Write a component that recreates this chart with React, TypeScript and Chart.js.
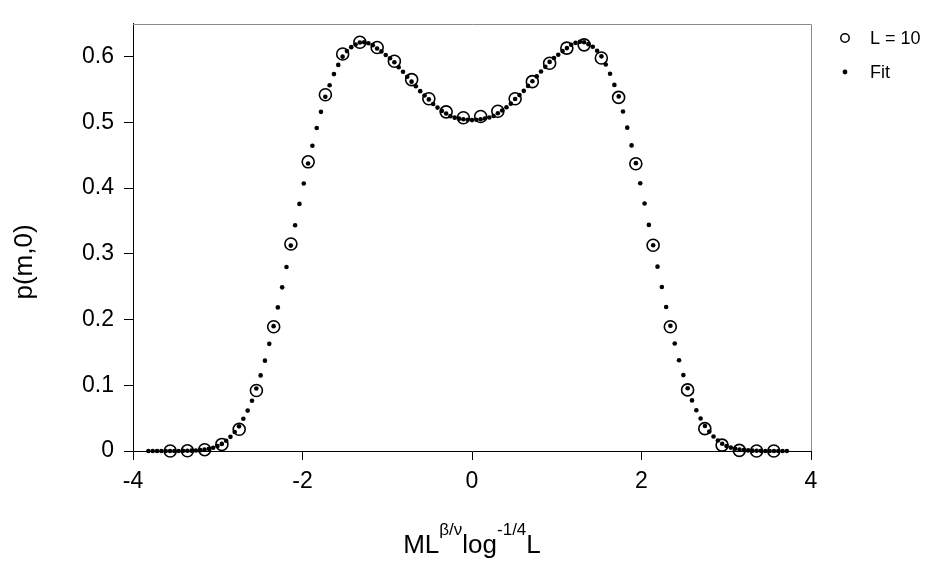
import React, { useEffect, useRef } from "react";
import { Chart, registerables } from "chart.js";

Chart.register(...registerables);

const FONT = 'Arial, "Liberation Sans", Helvetica, sans-serif';

// Simulation data, L = 10 (open circles)
const lMag = [
  -3.561, -3.358, -3.154, -2.951, -2.747, -2.544, -2.34, -2.137, -1.933, -1.73, -1.526, -1.323,
  -1.119, -0.916, -0.712, -0.509, -0.305, -0.102, 0.102, 0.305, 0.509, 0.712, 0.916, 1.119,
  1.323, 1.526, 1.73, 1.933, 2.137, 2.34, 2.544, 2.747, 2.951, 3.154, 3.358, 3.561,
];
const lProb = [
  0, 0.0003, 0.002, 0.01, 0.033, 0.092, 0.189, 0.315, 0.44, 0.542, 0.604, 0.622,
  0.614, 0.593, 0.565, 0.536, 0.516, 0.507, 0.509, 0.517, 0.536, 0.562, 0.59, 0.613,
  0.618, 0.598, 0.538, 0.437, 0.313, 0.189, 0.093, 0.034, 0.009, 0.001, 0, 0,
];

// Fit (small filled dots)
const fitMag = [
  -3.818, -3.767, -3.716, -3.665, -3.614, -3.563, -3.512, -3.461, -3.41, -3.359,
  -3.309, -3.258, -3.207, -3.156, -3.105, -3.054, -3.003, -2.952, -2.901, -2.85,
  -2.8, -2.749, -2.698, -2.647, -2.596, -2.545, -2.494, -2.443, -2.392, -2.341,
  -2.291, -2.24, -2.189, -2.138, -2.087, -2.036, -1.985, -1.934, -1.883, -1.832,
  -1.782, -1.731, -1.68, -1.629, -1.578, -1.527, -1.476, -1.425, -1.374, -1.323,
  -1.273, -1.222, -1.171, -1.12, -1.069, -1.018, -0.967, -0.916, -0.865, -0.814,
  -0.764, -0.713, -0.662, -0.611, -0.56, -0.509, -0.458, -0.407, -0.356, -0.305,
  -0.255, -0.204, -0.153, -0.102, -0.051,
  0,
  0.051, 0.102, 0.153, 0.204, 0.255,
  0.305, 0.356, 0.407, 0.458, 0.509, 0.56, 0.611, 0.662, 0.713, 0.764,
  0.814, 0.865, 0.916, 0.967, 1.018, 1.069, 1.12, 1.171, 1.222, 1.273,
  1.323, 1.374, 1.425, 1.476, 1.527, 1.578, 1.629, 1.68, 1.731, 1.782,
  1.832, 1.883, 1.934, 1.985, 2.036, 2.087, 2.138, 2.189, 2.24, 2.291,
  2.341, 2.392, 2.443, 2.494, 2.545, 2.596, 2.647, 2.698, 2.749, 2.8,
  2.85, 2.901, 2.952, 3.003, 3.054, 3.105, 3.156, 3.207, 3.258, 3.309,
  3.359, 3.41, 3.461, 3.512, 3.563, 3.614, 3.665, 3.716,
];
const fitProb = [
  0, 0, 0, 0, 0, 0, 0.0001, 0.0001, 0.0002, 0.0003,
  0.0005, 0.0008, 0.0013, 0.0021, 0.0033, 0.005, 0.0075, 0.0108, 0.0157, 0.0215,
  0.029, 0.0375, 0.049, 0.0615, 0.0765, 0.095, 0.115, 0.1375, 0.163, 0.19,
  0.2185, 0.249, 0.28, 0.3125, 0.3435, 0.376, 0.407, 0.4375, 0.4645, 0.4915,
  0.516, 0.539, 0.5565, 0.5735, 0.5875, 0.6, 0.6085, 0.6145, 0.6185, 0.6215,
  0.622, 0.6205, 0.6175, 0.6125, 0.608, 0.6025, 0.5975, 0.5915, 0.584, 0.577,
  0.5695, 0.562, 0.555, 0.5475, 0.541, 0.535, 0.528, 0.5225, 0.5175, 0.5135,
  0.5095, 0.5072, 0.5057, 0.5047, 0.504,
  0.5035,
  0.504, 0.5048, 0.5058, 0.5075, 0.5098,
  0.5138, 0.518, 0.523, 0.5285, 0.5355, 0.5415, 0.548, 0.5555, 0.5625, 0.57,
  0.5775, 0.5845, 0.592, 0.598, 0.603, 0.6085, 0.613, 0.618, 0.621, 0.6225,
  0.622, 0.619, 0.615, 0.609, 0.6005, 0.588, 0.574, 0.557, 0.5395, 0.5165,
  0.492, 0.465, 0.438, 0.4075, 0.3765, 0.344, 0.313, 0.2805, 0.2495, 0.219,
  0.1905, 0.1635, 0.138, 0.1155, 0.0955, 0.077, 0.062, 0.0495, 0.038, 0.0295,
  0.022, 0.016, 0.011, 0.0077, 0.0052, 0.0034, 0.0022, 0.0014, 0.0009, 0.0005,
  0.0003, 0.0002, 0.0001, 0.0001, 0, 0, 0, 0,
];

const xTicks = [-4, -2, 0, 2, 4];
const yTicks = [0, 0.1, 0.2, 0.3, 0.4, 0.5, 0.6];
const seriesNames = ["L = 10", "Fit"];
const yTitle = "p(m,0)";
const xTitleParts: { t: string; sup: boolean }[] = [
  { t: "ML", sup: false },
  { t: "\u03B2/\u03BD", sup: true },
  { t: "log", sup: false },
  { t: "-1/4", sup: true },
  { t: "L", sup: false },
];

const decorPlugin = {
  id: "decor",
  afterDraw(chart: any) {
    const { ctx, chartArea: a } = chart;
    ctx.save();
    // top and right frame
    ctx.strokeStyle = "#8c8c8c";
    ctx.lineWidth = 1;
    ctx.beginPath();
    ctx.moveTo(a.left, Math.round(a.top) + 0.5);
    ctx.lineTo(Math.round(a.right) + 0.5, Math.round(a.top) + 0.5);
    ctx.lineTo(Math.round(a.right) + 0.5, a.bottom);
    ctx.stroke();

    ctx.fillStyle = "#000";
    // x title with superscripts
    const mainF = `26px ${FONT}`;
    const supF = `17px ${FONT}`;
    let total = 0;
    const widths = xTitleParts.map((p) => {
      ctx.font = p.sup ? supF : mainF;
      const w = ctx.measureText(p.t).width;
      total += w;
      return w;
    });
    let x = (a.left + a.right) / 2 - total / 2;
    ctx.textAlign = "left";
    ctx.textBaseline = "alphabetic";
    xTitleParts.forEach((p, i) => {
      ctx.font = p.sup ? supF : mainF;
      ctx.fillText(p.t, x, p.sup ? 535 : 553);
      x += widths[i];
    });

    // y title
    ctx.save();
    ctx.translate(25, 262);
    ctx.rotate(-Math.PI / 2);
    ctx.font = `26px ${FONT}`;
    ctx.textAlign = "center";
    ctx.textBaseline = "middle";
    ctx.fillText(yTitle, 0, 0);
    ctx.restore();

    // legend
    ctx.lineWidth = 1.5;
    ctx.strokeStyle = "#000";
    ctx.beginPath();
    ctx.arc(845, 38, 4.2, 0, Math.PI * 2);
    ctx.stroke();
    ctx.beginPath();
    ctx.arc(845, 72, 2.4, 0, Math.PI * 2);
    ctx.fill();
    ctx.font = `18px ${FONT}`;
    ctx.textAlign = "left";
    ctx.textBaseline = "middle";
    ctx.fillText(seriesNames[0], 870, 39);
    ctx.fillText(seriesNames[1], 870, 73);
    ctx.restore();
  },
};

export default function App() {
  const ref = useRef<HTMLCanvasElement>(null);
  useEffect(() => {
    if (!ref.current) return;
    const chart = new Chart(ref.current, {
      type: "scatter",
      data: {
        datasets: [
          {
            label: seriesNames[0],
            data: lMag.map((m, i) => ({ x: m, y: lProb[i] })),
            pointStyle: "circle",
            pointRadius: 6,
            pointBorderWidth: 1.6,
            borderColor: "#000",
            backgroundColor: "rgba(0,0,0,0)",
            order: 2,
            clip: false,
          },
          {
            label: seriesNames[1],
            data: fitMag.map((m, i) => ({ x: m, y: fitProb[i] })),
            pointStyle: "circle",
            pointRadius: 2.3,
            pointBorderWidth: 0,
            borderColor: "#000",
            backgroundColor: "#000",
            order: 1,
            clip: false,
          },
        ],
      },
      options: {
        animation: false,
        responsive: false,
        devicePixelRatio: 1,
        layout: { padding: { top: 7, right: 116, left: 0, bottom: 0 } },
        plugins: { legend: { display: false }, tooltip: { enabled: false } },
        scales: {
          x: {
            type: "linear",
            min: xTicks[0],
            max: xTicks[xTicks.length - 1],
            afterBuildTicks: (s: any) => {
              s.ticks = xTicks.map((v) => ({ value: v }));
            },
            ticks: {
              color: "#000",
              font: { family: FONT, size: 23 },
              padding: 8,
              maxRotation: 0,
              callback: (v: any) => String(v),
            },
            grid: { display: true, drawOnChartArea: false, drawTicks: true, tickLength: 9, color: "#000" },
            border: { display: true, color: "#000", width: 1 },
            title: { display: false },
            afterFit: (s: any) => {
              s.height = 111;
            },
          },
          y: {
            type: "linear",
            min: 0,
            max: 0.65,
            afterBuildTicks: (s: any) => {
              s.ticks = yTicks.map((v) => ({ value: v }));
            },
            ticks: {
              color: "#000",
              font: { family: FONT, size: 23 },
              padding: 10,
              callback: (v: any) => String(Math.round(v * 10) / 10),
            },
            grid: { display: true, drawOnChartArea: false, drawTicks: true, tickLength: 9, color: "#000" },
            border: { display: true, color: "#000", width: 1 },
            title: { display: false },
            afterFit: (s: any) => {
              s.width = 133;
            },
          },
        },
      },
      plugins: [decorPlugin],
    });
    return () => chart.destroy();
  }, []);
  return (
    <div style={{ position: "absolute", left: 0, top: 0, width: 927, height: 562, background: "#fff" }}>
      <canvas ref={ref} width={927} height={562} style={{ display: "block" }} />
    </div>
  );
}
